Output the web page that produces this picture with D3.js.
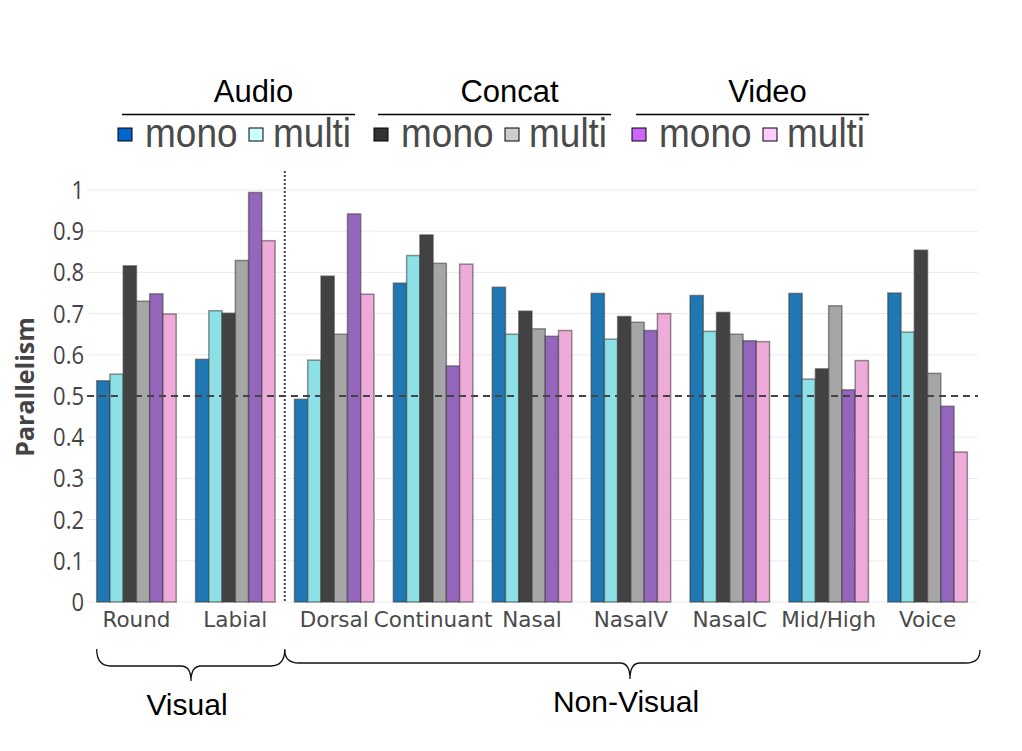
<!DOCTYPE html>
<html>
<head>
  <meta charset="utf-8">
  <script src="https://d3js.org/d3.v7.min.js"></script>
  <title>Parallelism</title>
  <style>
    body { margin: 0; background: #fff; }
  </style>
</head>
<body>
<script>
var categories = ["Round", "Labial", "Dorsal", "Continuant", "Nasal", "NasalV", "NasalC", "Mid/High", "Voice"];
var audioMono   = [0.537, 0.589, 0.492, 0.774, 0.764, 0.749, 0.744, 0.749, 0.750];
var audioMulti  = [0.553, 0.707, 0.587, 0.841, 0.650, 0.638, 0.657, 0.541, 0.655];
var concatMono  = [0.816, 0.701, 0.791, 0.891, 0.706, 0.693, 0.703, 0.566, 0.854];
var concatMulti = [0.730, 0.829, 0.650, 0.822, 0.663, 0.679, 0.650, 0.719, 0.555];
var videoMono   = [0.748, 0.994, 0.942, 0.573, 0.645, 0.659, 0.634, 0.515, 0.475];
var videoMulti  = [0.699, 0.877, 0.747, 0.820, 0.659, 0.700, 0.632, 0.586, 0.364];
var yTicks = [0, 0.1, 0.2, 0.3, 0.4, 0.5, 0.6, 0.7, 0.8, 0.9, 1];
var legendGroups = ["Audio", "Concat", "Video"];
var legendLabels = ["mono", "multi"];
var regionLabels = ["Visual", "Non-Visual"];

var series = [
  {name: "Audio mono",   values: audioMono,   fill: "#1f77b4", key: "#0066cc"},
  {name: "Audio multi",  values: audioMulti,  fill: "#8ce0e6", key: "#ccffff"},
  {name: "Concat mono",  values: concatMono,  fill: "#424242", key: "#333333"},
  {name: "Concat multi", values: concatMulti, fill: "#a6a6a6", key: "#cccccc"},
  {name: "Video mono",   values: videoMono,   fill: "#9467bd", key: "#cc66ff"},
  {name: "Video multi",  values: videoMulti,  fill: "#eeaad8", key: "#ffccff"}
];

var W = 1022, H = 751;
var plotL = 87, plotR = 977, plotT = 190, plotB = 602;

var svg = d3.select("body").append("svg")
  .attr("width", W)
  .attr("height", H);

var x = d3.scaleBand()
  .domain(categories)
  .range([plotL, plotR])
  .paddingInner(0.196)
  .paddingOuter(0.098);

var xs = d3.scaleBand()
  .domain(d3.range(series.length))
  .range([0, x.bandwidth()]);

var y = d3.scaleLinear()
  .domain([0, 1])
  .range([plotB, plotT]);

// grid
svg.append("g")
  .selectAll("line")
  .data(yTicks)
  .enter().append("line")
  .attr("x1", plotL).attr("x2", plotR + 1)
  .attr("y1", function(d) { return y(d); })
  .attr("y2", function(d) { return y(d); })
  .style("stroke", "#ebebeb")
  .style("stroke-width", "1px");

// y tick labels (slightly stretched vertically like the original)
svg.append("g")
  .selectAll("text")
  .data(yTicks)
  .enter().append("text")
  .attr("transform", function(d) { return "translate(84," + (y(d) + 9) + ") scale(1,1.15)"; })
  .attr("text-anchor", "end")
  .style("font-family", "'Open Sans', sans-serif")
  .style("font-size", "22px")
  .style("fill", "#444")
  .text(function(d) { return d3.format("~g")(d); });

// y title
svg.append("text")
  .attr("transform", "translate(34,387) rotate(-90)")
  .attr("text-anchor", "middle")
  .style("font-family", "'Open Sans', sans-serif")
  .style("font-weight", "bold")
  .style("font-size", "25px")
  .style("fill", "#444")
  .text("Parallelism");

// bars
var groups = svg.append("g")
  .selectAll("g")
  .data(categories)
  .enter().append("g")
  .attr("transform", function(d) { return "translate(" + x(d) + ",0)"; });

groups.selectAll("rect")
  .data(function(d, i) {
    return series.map(function(s, j) { return {j: j, v: s.values[i], fill: s.fill}; });
  })
  .enter().append("rect")
  .attr("x", function(d) { return xs(d.j); })
  .attr("width", xs.bandwidth())
  .attr("y", function(d) { return y(d.v); })
  .attr("height", function(d) { return y(0) - y(d.v); })
  .style("fill", function(d) { return d.fill; })
  .style("stroke", "rgba(60,60,60,0.55)")
  .style("stroke-width", "1.5px");

// 0.5 reference line
svg.append("line")
  .attr("x1", plotL).attr("x2", plotR + 1)
  .attr("y1", y(0.5)).attr("y2", y(0.5))
  .style("stroke", "#444")
  .style("stroke-width", "2px")
  .style("stroke-dasharray", "7,5");

// divider between visual and non-visual
var divX = (x("Labial") + x.bandwidth() + x("Dorsal")) / 2;
svg.append("line")
  .attr("x1", divX).attr("x2", divX)
  .attr("y1", 171).attr("y2", plotB)
  .style("stroke", "#444")
  .style("stroke-width", "2px")
  .style("stroke-dasharray", "2,2");

// x labels
svg.append("g")
  .selectAll("text")
  .data(categories)
  .enter().append("text")
  .attr("x", function(d) { return x(d) + x.bandwidth() / 2; })
  .attr("y", 627)
  .attr("text-anchor", "middle")
  .style("font-family", "'DejaVu Sans', sans-serif")
  .style("font-size", "21.5px")
  .style("fill", "#4a4a4a")
  .text(function(d) { return d; });

// braces
function brace(x0, x1, xm, yTop, yLine, yTip) {
  var p = d3.path();
  p.moveTo(x0, yTop);
  p.quadraticCurveTo(x0, yLine, x0 + 14, yLine);
  p.lineTo(xm - 10, yLine);
  p.quadraticCurveTo(xm, yLine, xm, yTip);
  p.quadraticCurveTo(xm, yLine, xm + 10, yLine);
  p.lineTo(x1 - 14, yLine);
  p.quadraticCurveTo(x1, yLine, x1, yTop);
  return p.toString();
}
var braces = [
  {x0: x("Round"), x1: divX, xm: 191, yTop: 649, yLine: 666, yTip: 681, tx: 187, ty: 715},
  {x0: divX, x1: 980, xm: 630, yTop: 650, yLine: 663, yTip: 679, tx: 626, ty: 712}
];
braces.forEach(function(b, i) {
  svg.append("path")
    .attr("d", brace(b.x0, b.x1, b.xm, b.yTop, b.yLine, b.yTip))
    .style("fill", "none")
    .style("stroke", "#111")
    .style("stroke-width", "1.3px");
  svg.append("text")
    .attr("x", b.tx).attr("y", b.ty)
    .attr("text-anchor", "middle")
    .style("font-family", "'Liberation Sans', Arial, sans-serif")
    .style("font-size", "30px")
    .style("fill", "#000")
    .text(regionLabels[i]);
});

// legend
var legX = [122, 378, 636];
var legW = 233;
legendGroups.forEach(function(g, i) {
  var x0 = legX[i];
  svg.append("text")
    .attr("x", x0 + legW / 2 + 15).attr("y", 102)
    .attr("text-anchor", "middle")
    .style("font-family", "'Liberation Sans', Arial, sans-serif")
    .style("font-size", "31px")
    .style("fill", "#000")
    .text(g);
  svg.append("line")
    .attr("x1", x0).attr("x2", x0 + legW)
    .attr("y1", 114.5).attr("y2", 114.5)
    .style("stroke", "#000")
    .style("stroke-width", "1.3px");
  legendLabels.forEach(function(lab, k) {
    var s = series[i * 2 + k];
    var sx = x0 - 4 + k * 131;
    svg.append("rect")
      .attr("x", sx).attr("y", 128)
      .attr("width", 14).attr("height", 13)
      .style("fill", s.key)
      .style("stroke", "#000")
      .style("stroke-width", "1px");
    svg.append("text")
      .attr("transform", "translate(" + (sx + (k === 0 ? 27 : 24)) + ",147) scale(1,1.12)")
      .style("font-family", "'Liberation Sans', Arial, sans-serif")
      .style("font-size", "37px")
      .style("fill", "#4a4a4a")
      .text(lab);
  });
});
</script>
</body>
</html>
